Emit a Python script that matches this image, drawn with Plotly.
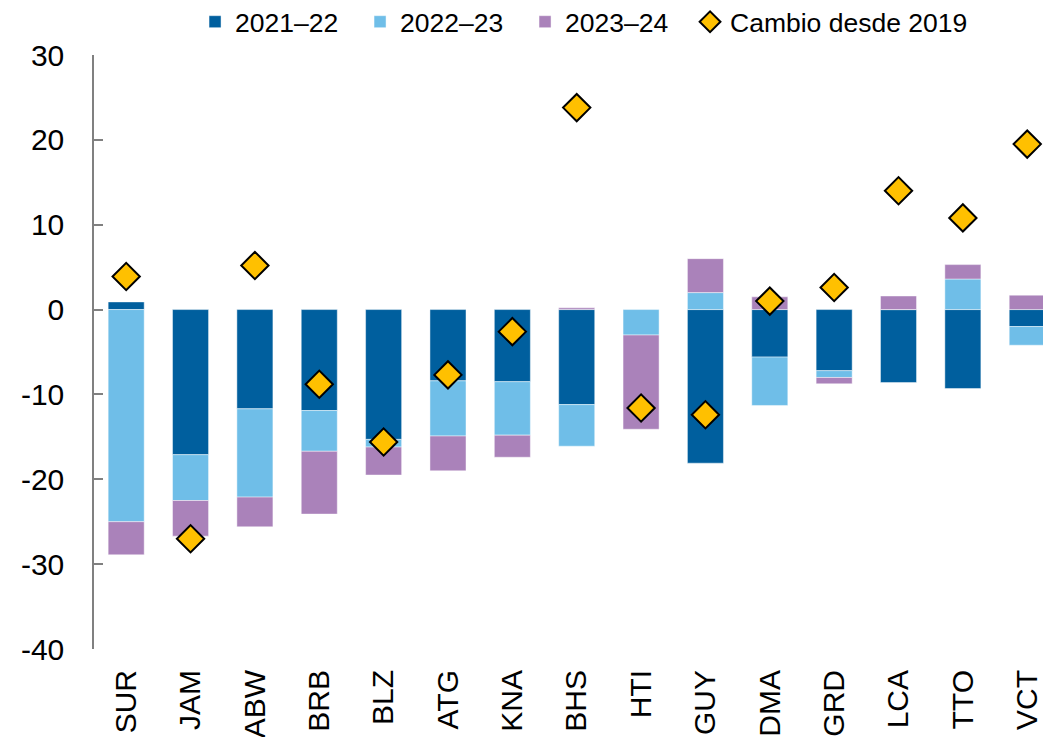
import plotly.graph_objects as go

categories = ["SUR", "JAM", "ABW", "BRB", "BLZ", "ATG", "KNA", "BHS", "HTI", "GUY", "DMA", "GRD", "LCA", "TTO", "VCT"]
s2021_22 = [0.9, -17.1, -11.7, -11.9, -15.3, -8.4, -8.5, -11.2, 0.0, -18.1, -5.6, -7.2, -8.6, -9.3, -2.0]
s2022_23 = [-25.0, -5.4, -10.4, -4.8, -0.9, -6.5, -6.3, -4.9, -3.0, 2.0, -5.7, -0.8, 0.0, 3.6, -2.2]
s2023_24 = [-3.9, -4.2, -3.5, -7.4, -3.3, -4.1, -2.6, 0.2, -11.1, 4.0, 1.5, -0.75, 1.6, 1.7, 1.7]
change_2019 = [3.9, -27.0, 5.2, -8.8, -15.6, -7.7, -2.6, 23.8, -11.6, -12.4, 1.0, 2.6, 14.0, 10.8, 19.5]
y_ticks = [30, 20, 10, 0, -10, -20, -30, -40]

FONT = "Liberation Sans, Arial, sans-serif"
edge = dict(color="rgba(255,255,255,0.45)", width=1)

fig = go.Figure()
fig.add_trace(go.Bar(x=categories, y=s2021_22, name="2021–22",
                     marker=dict(color="#005F9E", line=edge), width=0.56))
fig.add_trace(go.Bar(x=categories, y=s2022_23, name="2022–23",
                     marker=dict(color="#6FBEE8", line=edge), width=0.56))
fig.add_trace(go.Bar(x=categories, y=s2023_24, name="2023–24",
                     marker=dict(color="#AA82BA", line=edge), width=0.56))
fig.add_trace(go.Scatter(x=categories, y=change_2019, name="Cambio desde 2019", mode="markers",
                         legendwidth=260,
                         marker=dict(symbol="diamond", size=21, color="#FFC000",
                                     line=dict(color="black", width=2))))

n = len(categories)
xr = [-0.5, 14.245]
ymin, ymax = -40, 30

fig.update_layout(
    width=1043, height=737,
    barmode="relative",
    plot_bgcolor="white", paper_bgcolor="white",
    margin=dict(l=94, r=0, t=55, b=88, autoexpand=False),
    font=dict(family=FONT, color="black"),
    showlegend=True,
    legend=dict(orientation="h", xref="container", yref="paper",
                x=0.187, y=1.0556, xanchor="left", yanchor="middle",
                font=dict(size=26.5, family=FONT), entrywidth=120,
                traceorder="normal", bgcolor="rgba(0,0,0,0)"),
    xaxis=dict(type="category", range=xr, showline=False, ticks="",
               tickangle=-90, tickfont=dict(size=30, family=FONT),
               ticklabelstandoff=14,
               showgrid=False, zeroline=False),
    xaxis2=dict(overlaying="x", anchor="free", position=(0 - ymin) / (ymax - ymin),
                side="top", range=xr, showline=True, linecolor="#333333", linewidth=1.5,
                ticks="outside", ticklen=10, tickcolor="#333333", tickwidth=1.5,
                tickmode="array", tickvals=[i + 0.5 for i in range(n - 1)],
                showticklabels=False, showgrid=False, zeroline=False),
    yaxis=dict(range=[ymin, ymax], tickmode="array", tickvals=y_ticks,
               ticktext=[str(v) for v in y_ticks],
               showline=True, linecolor="#808080", linewidth=1.5,
               ticks="inside", ticklen=9, tickcolor="#808080", tickwidth=1.5,
               tickfont=dict(size=30, family=FONT), ticklabelstandoff=22,
               showgrid=False, zeroline=False),
)

fig.write_html("out.html",
               config={"displayModeBar": False},
               post_script="document.body.style.margin='0';document.body.style.overflow='hidden';")
